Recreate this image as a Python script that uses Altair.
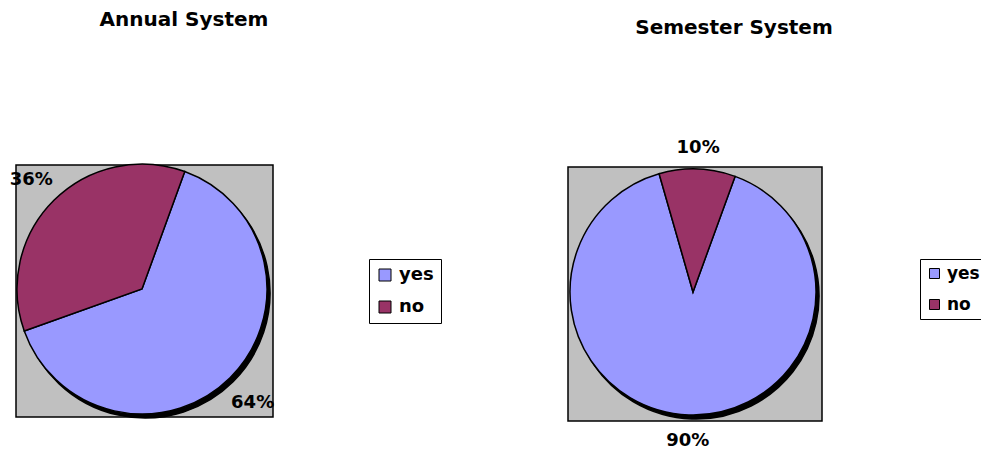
import math

import altair as alt
import pandas as pd

# Survey answers for the two examination systems (percent of respondents)
answers = ["yes", "no"]
annual_pct = [64, 36]
semester_pct = [90, 10]

BLUE = "#9999FF"
MAROON = "#993366"
GRAY = "#C0C0C0"
FONT = "DejaVu Sans"

# first slice starts a little past twelve o'clock and runs clockwise
START = math.radians(20)
theta_scale = alt.Scale(range=[START, START + 2 * math.pi])
blank = alt.Data(values=[{}])


def frame(values):
    return pd.DataFrame({
        "answer": answers,
        "pct": values,
        "ord": list(range(len(answers))),
        "label": [f"{v}%" for v in values],
    })


def panel(values, cx, cy, r, box, label_r, title, title_pos, legend_style):
    x0, y0, x1, y1 = box
    df = frame(values)

    background = alt.Chart(blank).mark_rect(
        fill=GRAY, stroke="black", strokeWidth=1.5
    ).encode(x=alt.value(x0), x2=alt.value(x1), y=alt.value(y0), y2=alt.value(y1))

    base = alt.Chart(df).encode(
        theta=alt.Theta("pct:Q", stack=True, scale=theta_scale),
        order=alt.Order("ord:Q"),
    )

    shadow = base.mark_arc(
        outerRadius=r, fill="black", stroke="black", strokeWidth=1.5
    ).encode(x=alt.value(cx + 3), y=alt.value(cy + 4))

    pie = base.mark_arc(
        outerRadius=r, stroke="black", strokeWidth=1.5, opacity=1
    ).encode(
        x=alt.value(cx),
        y=alt.value(cy),
        color=alt.Color(
            "answer:N",
            sort=answers,
            scale=alt.Scale(domain=answers, range=[BLUE, MAROON]),
            legend=alt.Legend(
                title=None,
                orient="none",
                symbolType="square",
                symbolStrokeColor="black",
                symbolStrokeWidth=1,
                symbolOpacity=1,
                labelFont=FONT,
                labelFontWeight="bold",
                labelColor="black",
                strokeColor="black",
                fillColor="white",
                **legend_style,
            ),
        ),
    )

    labels = base.mark_text(
        radius=label_r, font=FONT, fontWeight="bold", fontSize=18,
        color="black", baseline="middle", align="center", dy=2.5,
    ).encode(x=alt.value(cx), y=alt.value(cy), text="label:N")

    heading = alt.Chart(blank).mark_text(
        text=title, font=FONT, fontWeight="bold", fontSize=20,
        color="black", align="center", baseline="alphabetic",
    ).encode(x=alt.value(title_pos[0]), y=alt.value(title_pos[1]))

    return [background, shadow, pie, labels, heading]


annual = panel(
    annual_pct, 142, 289, 125, (16, 165, 273, 417), 157,
    "Annual System", (184, 26),
    dict(legendX=369, legendY=259, symbolSize=144, labelOffset=5,
         labelFontSize=18, rowPadding=14, padding=7),
)
semester = panel(
    semester_pct, 693, 292, 123, (568, 167, 822, 421), 147,
    "Semester System", (734, 34),
    dict(legendX=920, legendY=259, symbolSize=100, labelOffset=4,
         labelFontSize=17, rowPadding=13, padding=6),
)

chart = (
    alt.layer(*annual, *semester)
    .properties(width=981, height=449, autosize="none", padding=0,
                background="white")
    .resolve_scale(color="independent")
    .configure_view(stroke=None)
)

chart.save("out.html", embed_options={"renderer": "svg", "actions": False})
